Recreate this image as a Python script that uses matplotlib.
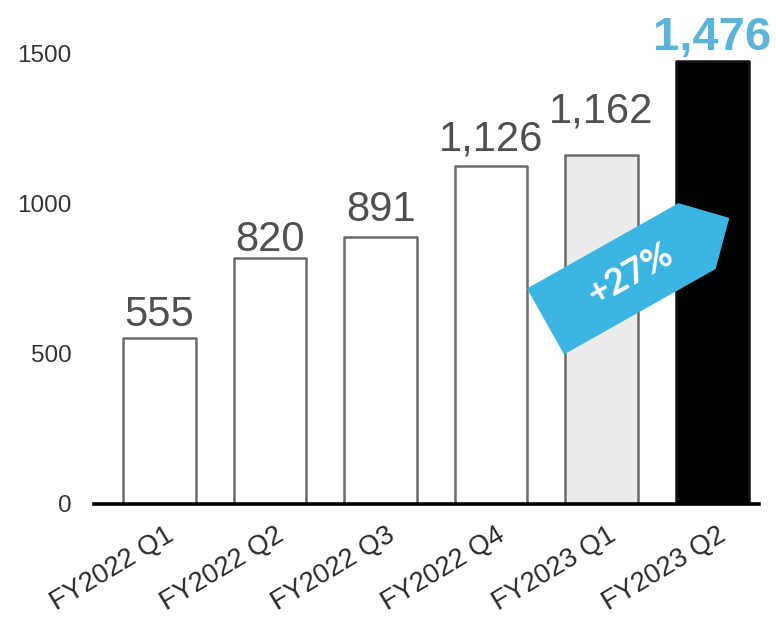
import numpy as np
import matplotlib
matplotlib.use('Agg')
import matplotlib.pyplot as plt
import matplotlib.transforms as mtransforms
from matplotlib.patches import Polygon

# donnees
quarters = ['FY2022 Q1', 'FY2022 Q2', 'FY2022 Q3', 'FY2022 Q4', 'FY2023 Q1', 'FY2023 Q2']
values = [555, 820, 891, 1126, 1162, 1476]
value_labels = ['555', '820', '891', '1,126', '1,162', '1,476']
yticks = [0, 500, 1000, 1500]
growth_label = '+27%'

# styles
fills = ['white', 'white', 'white', 'white', '#ebebeb', 'black']
edges = ['#6a6a6a'] * 5 + ['#111111']
label_offsets = [8, 5, 11, 11, 24, 8]   # points au-dessus des barres
blue = '#5bb4dc'

W, H = 776, 624
fig = plt.figure(figsize=(W / 100, H / 100), dpi=100)
ax = fig.add_axes([94 / W, 120 / H, (759 - 94) / W, 480 / H])

x = np.arange(len(quarters))
ax.bar(x, values, width=0.66, color=fills, edgecolor=edges, linewidth=1.8,
       joinstyle='round', zorder=2)

ax.set_xlim(-0.593, 5.425)
ax.set_ylim(0, 1600)

for s in ['top', 'right', 'left']:
    ax.spines[s].set_visible(False)
ax.spines['bottom'].set_linewidth(2.6)
ax.spines['bottom'].set_color('black')
ax.spines['bottom'].set_zorder(5)

ax.set_yticks(yticks)
ax.set_yticklabels([str(t) for t in yticks], fontsize=17.5, color='#333333',
                   family='Liberation Sans')
ax.tick_params(axis='y', length=0, pad=16)

ax.set_xticks(x)
ax.set_xticklabels(quarters, rotation=31, ha='right', va='center',
                   rotation_mode='anchor', fontsize=19.5, color='#2a2a2a',
                   family='Liberation Sans')
ax.tick_params(axis='x', length=0, pad=21)
shift = mtransforms.ScaledTranslation(12 / 100, 0, fig.dpi_scale_trans)
for lab in ax.get_xticklabels():
    lab.set_transform(lab.get_transform() + shift)

# etiquettes de valeurs
for i, (v, txt) in enumerate(zip(values, value_labels)):
    last = i == len(values) - 1
    ax.annotate(txt, (x[i], v), xytext=(0, label_offsets[i]),
                textcoords='offset points', ha='center', va='baseline',
                fontsize=34 if last else 30,
                fontweight='bold' if last else 'normal',
                color=blue if last else '#505050',
                family='Liberation Sans', annotation_clip=False, zorder=4)

# fleche +27% (en pixels de la figure)
x0, y0 = 545.5, H - 321.5
ang = np.deg2rad(29.4)
body, tip, half = 174, 211, 37.8
local = np.array([[0, half], [body, half], [tip, 0], [body, -half], [0, -half]])
rot = np.array([[np.cos(ang), -np.sin(ang)], [np.sin(ang), np.cos(ang)]])
pts = local @ rot.T + [x0, y0]
pts = pts / [W, H]
fig.patches.append(Polygon(pts, closed=True, facecolor='#3db5e3', edgecolor='none',
                           transform=fig.transFigure, zorder=6))
tc = np.array([97, 0]) @ rot.T + [x0, y0]
fig.text(tc[0] / W, tc[1] / H, growth_label, rotation=29.4, ha='center', va='center',
         rotation_mode='anchor', fontsize=26, fontweight='bold', color='white',
         family='Lato', zorder=7)

fig.savefig('out.png', dpi=100)
